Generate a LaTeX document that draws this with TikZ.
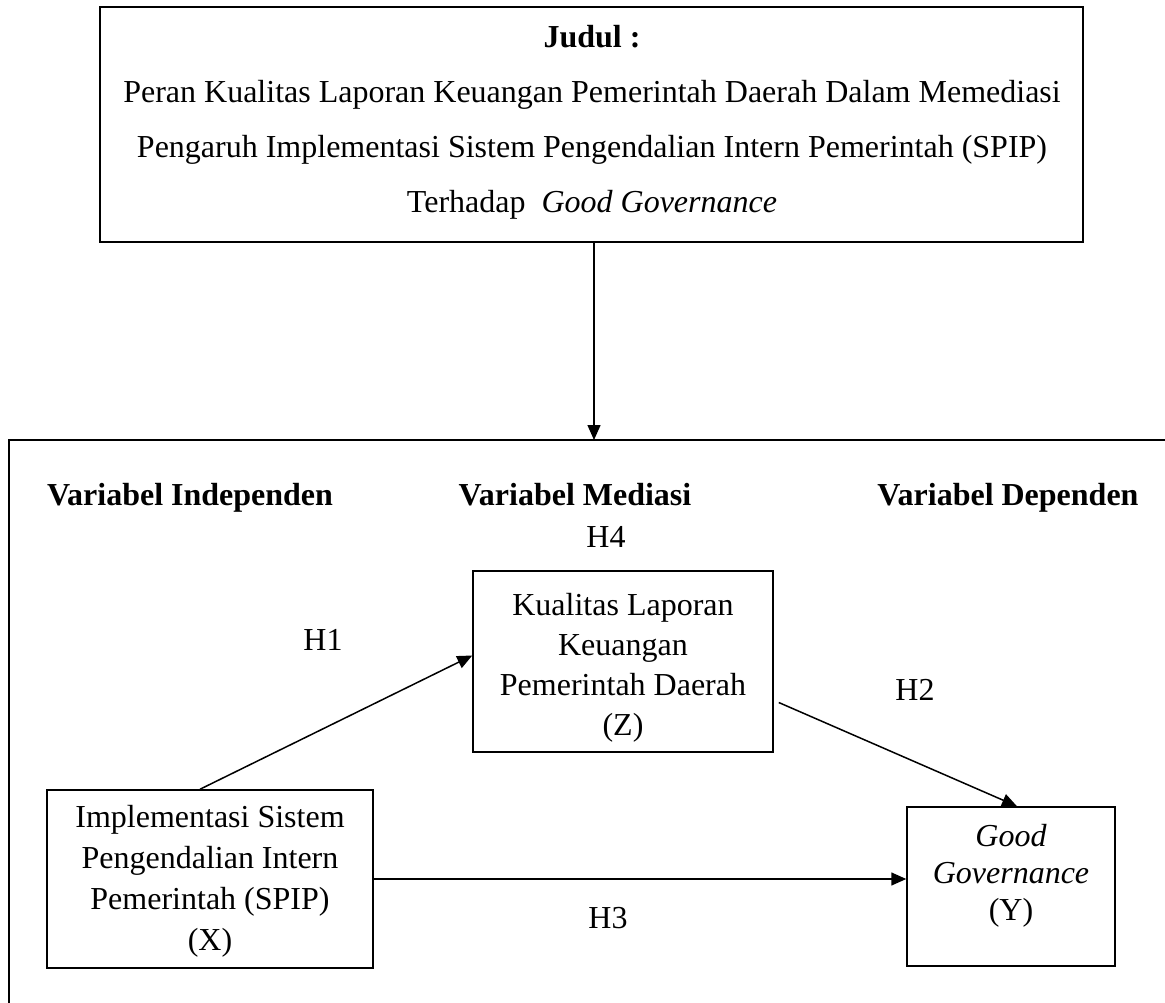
\documentclass[tikz,border=0pt]{standalone}
\usepackage{fontspec}
\setmainfont{Liberation Serif}
\usetikzlibrary{arrows.meta}
\begin{document}
\begin{tikzpicture}[x=1pt,y=-1pt,
 box/.style={draw,line width=1.5pt,rectangle,inner sep=0pt},
 arr/.style={line width=1.5pt,-{Triangle[length=15pt,width=13pt]}},
 txt/.style={inner sep=0pt,align=center,font=\fontsize{32}{38}\selectfont},
 lbl/.style={inner sep=0pt,font=\fontsize{32}{38}\selectfont},
 head/.style={inner sep=0pt,anchor=base,font=\fontsize{32}{38}\selectfont\bfseries},
]
\useasboundingbox (0,0) rectangle (1165,1003);
% title box
\node[box,minimum width=983pt,minimum height=235pt] (T) at (591.5,124.5) {};
\node[txt,font=\fontsize{32}{55}\selectfont] (Tt) at (592,122) {\textbf{Judul :}\\
Peran Kualitas Laporan Keuangan Pemerintah Daerah Dalam Memediasi\\
Pengaruh Implementasi Sistem Pengendalian Intern Pemerintah (SPIP)\\
Terhadap~ \textit{Good Governance}};
% outer frame
\coordinate (otop) at (594,440);
\coordinate (oleft) at (9,440);
\coordinate (oright) at (1166,440);
\coordinate (obot) at (9,1004);
\draw[line width=1.5pt] (oright) -- (oleft) -- (obot);
\draw[arr] (T.south -| otop) -- (otop);
% headings
\node[head] (hI) at (190,505) {Variabel Independen};
\node[head] (hM) at (575,505) {Variabel Mediasi};
\node[head] (hD) at (1008,505) {Variabel Dependen};
% boxes
\node[box,minimum width=300pt,minimum height=181pt] (Z) at (623,661.5) {};
\node[txt,font=\fontsize{32}{40}\selectfont] (Zt) at (623,668) {Kualitas Laporan\\Keuangan\\Pemerintah Daerah\\(Z)};
\node[box,minimum width=326pt,minimum height=178pt] (X) at (210,879) {};
\node[txt,font=\fontsize{32}{41}\selectfont] (Xt) at (210,881) {Implementasi Sistem\\Pengendalian Intern\\Pemerintah (SPIP)\\(X)};
\node[box,minimum width=208pt,minimum height=159pt] (Y) at (1011,886.5) {};
\node[txt,font=\fontsize{32}{37}\selectfont] (Yt) at (1011,876) {\textit{Good}\\\textit{Governance}\\(Y)};
% arrows
\draw[arr] ([xshift=-10pt]X.north) -- ([yshift=6pt]Z.west);
\draw[arr] ([xshift=5pt,yshift=-41pt]Z.east) -- ([xshift=6pt]Y.north);
\draw[arr] ([yshift=0pt]X.east) -- ([yshift=0pt]X.east -| Y.west);
% hypothesis labels
\node[lbl] (h4) at (606,537) {H4};
\node[lbl] (h1) at (323,640) {H1};
\node[lbl] (h2) at (915,690) {H2};
\node[lbl] (h3) at (608,918) {H3};
\end{tikzpicture}
\end{document}
